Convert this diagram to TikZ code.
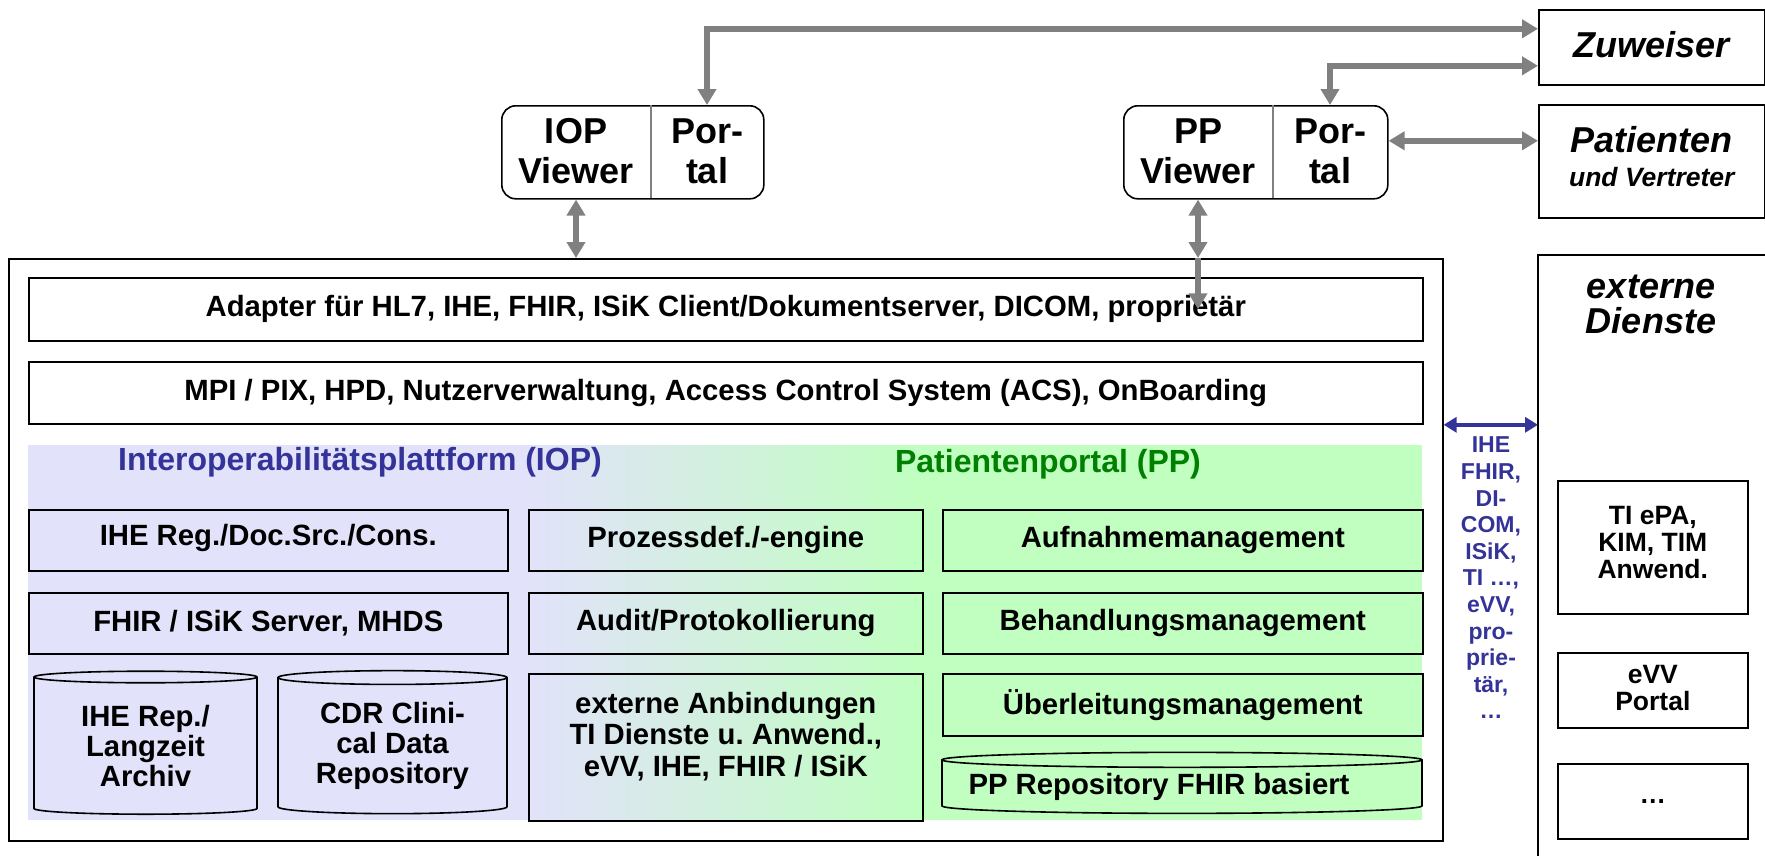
\documentclass[tikz,border=0pt]{standalone}
\usepackage{fontspec}
\setmainfont{Liberation Sans}
\usetikzlibrary{arrows.meta,shapes.geometric}
\newcommand{\fsz}[2]{\fontsize{#1}{#2}\selectfont}
\definecolor{iopblue}{RGB}{51,51,153}
\definecolor{ppgreen}{RGB}{0,128,0}
\definecolor{ioplav}{RGB}{226,226,250}
\definecolor{pplight}{RGB}{192,255,192}
\definecolor{arrgray}{RGB}{128,128,128}
\frenchspacing

\begin{document}
\begin{tikzpicture}[x=1pt,y=-1pt,
  every node/.style={font=\bfseries},
  box/.style={draw, line width=1.6pt, inner sep=0pt, anchor=north west, align=center, font=\fsz{29.3}{31.5}\bfseries},
  portalbox/.style={box, rounded corners=14pt},
  dbase/.style={cylinder, shape border rotate=90, draw, line width=1.6pt, inner sep=0pt, align=center, font=\fsz{29.3}{30}\bfseries},
  extbox/.style={box, font=\fsz{26.5}{27}\bfseries},
  garrow/.style={draw=arrgray, line width=5.5pt, {Triangle[width=18pt,length=16pt]}-{Triangle[width=18pt,length=16pt]}},
  gdown/.style={draw=arrgray, line width=5.5pt, -{Triangle[width=18pt,length=16pt]}},
  barrow/.style={draw=iopblue, line width=4pt, {Triangle[width=15pt,length=13pt]}-{Triangle[width=15pt,length=13pt]}},
  title/.style={font=\fsz{32}{34}\bfseries}]
  \useasboundingbox (0,0) rectangle (1765,855);

  % rechte Spalte
  \node[box, minimum width=226pt, minimum height=75pt, text depth=5pt, font=\fsz{36}{38}\bfseries\itshape] (zuw) at (1538,9) {Zuweiser};
  \node[box, minimum width=226pt, minimum height=113pt, text depth=10pt, font=\fsz{36}{38}\bfseries\itshape] (pat) at (1538,104) {Patienten\\[-4pt]{\fsz{26.5}{28}\bfseries\itshape und Vertreter}};
  \node[box, draw=none, minimum width=226pt, minimum height=600pt] (ext) at (1538,255) {};
  \draw[line width=1.6pt] (ext.south west) -- (ext.north west) -- (ext.north east) -- (ext.south east);
  \node[font=\fsz{36}{35}\bfseries\itshape, align=center] (exttitle) at (1651,304) {externe\\Dienste};
  \node[extbox, minimum width=190pt, minimum height=133pt, text depth=10pt] (tiepa) at (1557,480) {TI ePA,\\KIM, TIM\\Anwend.};
  \node[extbox, minimum width=190pt, minimum height=75pt, text depth=5pt] (evv) at (1557,652) {eVV\\Portal};
  \node[extbox, minimum width=190pt, minimum height=75pt] (more) at (1557,763) {…};

  % Viewer / Portale
  \node[portalbox, minimum width=262pt, minimum height=93pt] (iop) at (501,105) {};
  \node[font=\fsz{36}{40}\bfseries, align=center] (iopview) at (576,151.5) {IOP\\Viewer};
  \node[font=\fsz{36}{40}\bfseries, align=center] (iopportal) at (707,151.5) {Por-\\tal};
  \draw[arrgray, line width=1.6pt] (651,105) -- (651,198);
  \node[portalbox, minimum width=264pt, minimum height=93pt] (pp) at (1123,105) {};
  \node[font=\fsz{36}{40}\bfseries, align=center] (ppview) at (1198,151.5) {PP\\Viewer};
  \node[font=\fsz{36}{40}\bfseries, align=center] (ppportal) at (1330,151.5) {Por-\\tal};
  \draw[arrgray, line width=1.6pt] (1273,105) -- (1273,198);

  % Plattform
  \node[box, minimum width=1434pt, minimum height=582pt] (main) at (8,258) {};
  \node[box, minimum width=1394pt, minimum height=63pt] (adapter) at (28,277) {Adapter für HL7, IHE, FHIR, ISiK Client/Dokumentserver, DICOM, proprietär};
  \node[box, minimum width=1394pt, minimum height=62pt] (mpi) at (28,361) {MPI / PIX, HPD, Nutzerverwaltung, Access Control System (ACS), OnBoarding};
  \fill[ioplav] (28,445) rectangle (528,820);
  \shade[left color=ioplav, right color=pplight] (528,445) rectangle (922,820);
  \fill[pplight] (922,445) rectangle (1422,820);
  \node[title, text=iopblue] (ioptitle) at (360,462) {Interoperabilitätsplattform (IOP)};
  \node[title, text=ppgreen] (pptitle) at (1048,464) {Patientenportal (PP)};

  \node[box, minimum width=479pt, minimum height=61pt, text depth=10pt] (ihereg) at (28,509) {IHE Reg./Doc.Src./Cons.};
  \node[box, minimum width=394pt, minimum height=61pt] (prozess) at (528,509) {Prozessdef./-engine};
  \node[box, minimum width=480pt, minimum height=61pt] (aufnahme) at (942,509) {Aufnahmemanagement};
  \node[box, minimum width=479pt, minimum height=61pt] (fhirsrv) at (28,592) {FHIR / ISiK Server, MHDS};
  \node[box, minimum width=394pt, minimum height=61pt] (audit) at (528,592) {Audit/Protokollierung};
  \node[box, minimum width=480pt, minimum height=61pt] (behandl) at (942,592) {Behandlungsmanagement};
  \node[dbase, fill=ioplav, aspect=0.09, minimum width=223pt, minimum height=143pt] (archiv) at (145.5,746) {IHE Rep./\\Langzeit\\Archiv};
  \node[dbase, fill=ioplav, aspect=0.09, minimum width=229pt, minimum height=143pt] (cdr) at (392.5,746) {CDR Clini-\\cal Data\\Repository};
  \node[box, minimum width=394pt, minimum height=147pt, text depth=26pt] (anbind) at (528,673) {externe Anbindungen\\TI Dienste u. Anwend.,\\eVV, IHE, FHIR / ISiK};
  \node[box, minimum width=480pt, minimum height=62pt] (ueberl) at (942,673) {Überleitungsmanagement};
  \node[dbase, fill=pplight, aspect=0.035, minimum width=480pt, minimum height=61pt] (pprepo) at (1182,787) {PP Repository FHIR basiert\hspace*{46pt}};

  \node[font=\fsz{23}{26.6}\bfseries, text=iopblue, align=center] (proto) at (1491,578) {IHE\\FHIR,\\DI-\\COM,\\ISiK,\\TI …,\\eVV,\\pro-\\prie-\\tär,\\…};

  % Verbindungen
  \draw[garrow] (iopportal |- iop.north) |- ([yshift=18.5pt]zuw.west);
  \draw[garrow] (ppportal |- pp.north) |- ([yshift=-18.5pt]zuw.west);
  \draw[garrow] ([yshift=11.5pt]pp.east) -- ([yshift=11.5pt]pp.east -| pat.west);
  \draw[garrow] (iopview |- iop.south) -- (iopview |- main.north);
  \draw[garrow] (ppview |- pp.south) -- (ppview |- main.north);
  \draw[gdown] (ppview |- main.north) -- (ppview |- adapter.center);
  \draw[barrow] ([yshift=125pt]main.east) -- ([yshift=125pt]main.east -| ext.west);
\end{tikzpicture}
\end{document}
